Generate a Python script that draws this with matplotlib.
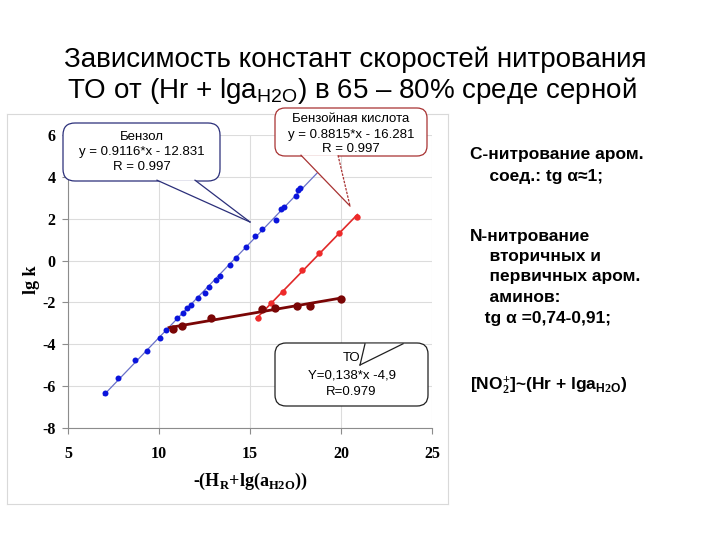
import matplotlib.pyplot as plt
import numpy as np
from matplotlib.patches import FancyBboxPatch, Polygon

plt.rcParams["font.family"] = ["Liberation Sans", "DejaVu Sans"]
plt.rcParams["axes.unicode_minus"] = False
plt.rcParams["mathtext.fontset"] = "custom"
plt.rcParams["mathtext.rm"] = "Liberation Serif:bold"
plt.rcParams["mathtext.bf"] = "Liberation Serif:bold"
plt.rcParams["mathtext.sf"] = "Liberation Sans"
plt.rcParams["mathtext.it"] = "Liberation Sans:bold"

# benzene
benz_x = [7.03, 7.77, 8.68, 9.34, 10.04, 10.37, 10.97, 11.30, 11.56, 11.75, 12.16,
          12.54, 12.75, 13.15, 13.37, 13.90, 14.24, 14.77, 15.28, 15.64, 16.42,
          16.72, 16.88, 17.53, 17.62, 17.77]
benz_y = [-6.32, -5.61, -4.73, -4.30, -3.72, -3.30, -2.73, -2.50, -2.28, -2.13, -1.80,
          -1.53, -1.24, -0.95, -0.76, -0.22, 0.12, 0.67, 1.18, 1.52, 1.96,
          2.45, 2.57, 3.10, 3.36, 3.48]
# benzoic acid
acid_x = [15.44, 16.16, 16.79, 17.88, 18.77, 19.88, 20.88]
acid_y = [-2.73, -2.03, -1.51, -0.46, 0.35, 1.32, 2.10]
# TO
to_x = [10.79, 11.26, 12.84, 15.68, 16.40, 17.56, 18.31, 20.01]
to_y = [-3.27, -3.15, -2.75, -2.31, -2.27, -2.15, -2.15, -1.83]

xticks = [5, 10, 15, 20, 25]
yticks = [-8, -6, -4, -2, 0, 2, 4, 6]

title1 = "Зависимость констант скоростей нитрования"
title2 = r"ТО от (Hr + lga$_{\mathsf{H2O}}$) в 65 – 80% среде серной"

benz_label = ["Бензол", "y = 0.9116*x - 12.831", "R = 0.997"]
acid_label = ["Бензойная кислота", "y = 0.8815*x - 16.281", "R = 0.997"]
to_label = ["ТО", "Y=0,138*x -4,9", "R=0.979"]

side_lines = [
    "С-нитрование аром.",
    "    соед.: tg α≈1;",
    "N-нитрование",
    "    вторичных и",
    "    первичных аром.",
    "    аминов:",
    "   tg α =0,74-0,91;",
    r"[NO$_{\mathit{2}}^{\mathit{+}}$]~(Hr + lga$_{\mathit{H2O}}$)",
]
side_y = [155, 176, 237, 257, 277, 297, 319, 385]

W, H = 720, 540
fig = plt.figure(figsize=(7.2, 5.4), dpi=100)

# title (behind the chart panel)
fig.text(355 / W, 1 - 67 / H, title1, ha="center", va="baseline", fontsize=20, zorder=0.5)
fig.text(352 / W, 1 - 98 / H, title2, ha="center", va="baseline", fontsize=20, zorder=0.5)

# chart panel
panel = fig.add_axes([7 / W, 1 - 504 / H, 441 / W, 390 / H], zorder=1)
panel.set_xticks([])
panel.set_yticks([])
for s in panel.spines.values():
    s.set_color("#d9d9d9")
    s.set_linewidth(0.8)

ax = fig.add_axes([68 / W, 1 - 428 / H, 364 / W, 293 / H], zorder=2)
ax.patch.set_alpha(0)


def trend(x, y, x0, x1):
    k, b = np.polyfit(x, y, 1)
    xs = np.array([x0, x1])
    return xs, k * xs + b


xs, ys = trend(benz_x, benz_y, 6.95, 19.6)
ax.plot(xs, ys, color="#6870c8", lw=0.9, zorder=3)
ax.plot(benz_x, benz_y, "o", color="#0a14dc", ms=4.3, mec="none", zorder=4)

xs, ys = trend(acid_x, acid_y, 15.35, 20.9)
ax.plot(xs, ys, color="#e02828", lw=1.2, zorder=3)
ax.plot(acid_x, acid_y, "o", color="#ee2a2a", ms=4.6, mec="none", zorder=4)

xs, ys = trend(to_x, to_y, 10.55, 20.0)
ax.plot(xs, ys, color="#7a0505", lw=2.0, zorder=3)
ax.plot(to_x, to_y, "o", color="#7a0505", ms=6, mec="none", zorder=4)

ax.set_xlim(5, 25)
ax.set_ylim(-8, 6)
ax.set_xticks(xticks)
ax.set_yticks(yticks)
ax.grid(True, color="#dcdcdc", lw=0.8)
ax.set_axisbelow(True)
for side in ["top", "right"]:
    ax.spines[side].set_visible(False)
for side in ["left", "bottom"]:
    ax.spines[side].set_color("#8c8c8c")
ax.tick_params(direction="out", length=4, color="#8c8c8c")
ax.tick_params(axis="x", pad=9)
ax.tick_params(axis="y", pad=5)
for lab in ax.get_xticklabels() + ax.get_yticklabels():
    lab.set_fontfamily("Liberation Serif")
    lab.set_fontweight("bold")
    lab.set_fontsize(11.5)

ax.text(-0.099, 0.505, "lg k", transform=ax.transAxes, rotation=90, ha="center",
        va="center", fontsize=13, fontweight="bold", fontfamily="Liberation Serif")
ax.text(0.5, -0.184, r"-(H$_{\mathrm{R}}$+lg(a$_{\mathrm{H2O}}$))", transform=ax.transAxes,
        ha="center", va="center", fontsize=13, fontweight="bold", fontfamily="Liberation Serif")

# overlay in pixel coordinates for the callouts
ov = fig.add_axes([0, 0, 1, 1], zorder=3)
ov.set_xlim(0, W)
ov.set_ylim(H, 0)
ov.axis("off")


def callout(box, base, tip, ec, lines, ys, rs=10, side_styles=("-", "-")):
    x0, y0, x1, y1 = box
    ov.add_patch(FancyBboxPatch((x0, y0), x1 - x0, y1 - y0,
                                boxstyle=f"round,pad=0,rounding_size={rs}",
                                fc="white", ec=ec, lw=0.9))
    ov.add_patch(Polygon([base[0], tip, base[1]], closed=True, fc="white", ec="none"))
    ov.plot([base[0][0], tip[0]], [base[0][1], tip[1]], color=ec, lw=0.9, ls=side_styles[0])
    ov.plot([base[1][0], tip[0]], [base[1][1], tip[1]], color=ec, lw=0.9, ls=side_styles[1])
    cx = (x0 + x1) / 2
    for t, y in zip(lines, ys):
        ov.text(cx, y, t, ha="center", va="center", fontsize=9.5)


callout((63, 123, 220, 181), [(157, 180.2), (195, 180.2)], (250, 222), "#2b2f7a",
        benz_label, [137, 152, 167], rs=12)
callout((275, 108, 427, 156), [(301, 155.2), (338, 155.2)], (350, 206), "#a83232",
        acid_label, [119, 135, 149], rs=10, side_styles=("-", (0, (2, 1))))
callout((275, 343, 428, 406), [(365, 343.8), (403, 343.8)], (360, 365), "#202020",
        to_label, [358, 375, 392], rs=11)

# right-hand notes
for t, y in zip(side_lines, side_y):
    fig.text(470 / W, 1 - y / H, t, ha="left", va="center", fontsize=12.5, fontweight="bold")

fig.savefig("out.png", dpi=100)
